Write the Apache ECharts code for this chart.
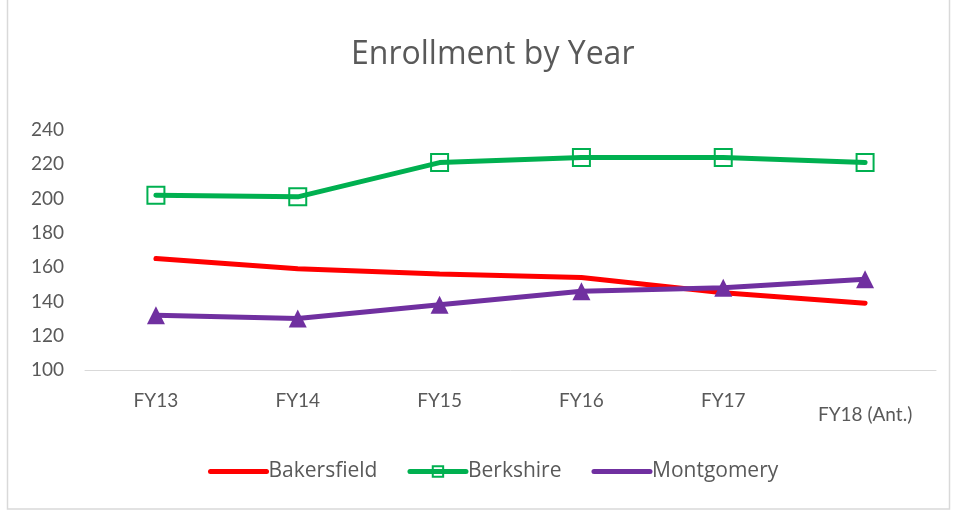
<!DOCTYPE html>
<html><head><meta charset="utf-8">
<script src="https://cdn.jsdelivr.net/npm/echarts@6/dist/echarts.min.js"></script>
<style>html,body{margin:0;padding:0;background:#fff}#c{width:954px;height:512px}</style>
</head><body><div id="c"></div>
<script>
const categories = ['FY13','FY14','FY15','FY16','FY17','FY18 (Ant.)'];
const bakersfield = [165, 159, 156, 154, 145, 139];
const berkshire = [202, 201, 221, 224, 224, 221];
const montgomery = [132, 130, 138, 146, 148, 153];
const yTicks = {min: 100, max: 240, interval: 20};

const FONT = 'Lato, "Liberation Sans", sans-serif';
const FONT2 = '"Open Sans", Lato, sans-serif';
const chart = echarts.init(document.getElementById('c'), null, {renderer: 'canvas'});
chart.setOption({
  animation: false,
  backgroundColor: '#fff',
  title: {text: 'Enrollment by Year', left: 346, top: 34,
    textStyle: {fontFamily: FONT2, fontSize: 32, fontWeight: 'normal', color: '#595959'}},
  graphic: [{type: 'rect', shape: {x: 7.5, y: -2, width: 942, height: 511},
    style: {fill: 'none', stroke: '#d9d9d9', lineWidth: 1.5}}],
  grid: {left: 85, right: 18, top: 130, bottom: 142},
  legend: {bottom: 25, left: 203, itemWidth: 56, itemHeight: 13, itemGap: 30,
    lineStyle: {width: 5, cap: 'round'},
    textStyle: {fontFamily: FONT2, fontSize: 21, color: '#595959', padding: [0, 0, 0, -3]},
    data: [{name: 'Bakersfield', itemStyle: {opacity: 0}}, 'Berkshire',
           {name: 'Montgomery', itemStyle: {opacity: 0}}]},
  xAxis: {type: 'category', data: categories.map((c, i) => i === categories.length - 1 ?
      {value: c, textStyle: {padding: [14, 0, 0, 0]}} : c),
    axisLine: {lineStyle: {color: '#d9d9d9', width: 1}}, axisTick: {show: false},
    axisLabel: {fontFamily: FONT, fontSize: 19, color: '#595959', margin: 21}},
  yAxis: {type: 'value', min: yTicks.min, max: yTicks.max, interval: yTicks.interval,
    splitLine: {show: false}, axisLine: {show: false}, axisTick: {show: false},
    axisLabel: {fontFamily: FONT, fontSize: 19, color: '#595959', margin: 21}},
  series: [
    {name: 'Bakersfield', type: 'line', data: bakersfield, symbol: 'none',
      lineStyle: {color: '#FF0000', width: 5, cap: 'round'}, itemStyle: {color: '#FF0000'}},
    {name: 'Berkshire', type: 'line', data: berkshire, symbol: 'rect', symbolSize: 17,
      lineStyle: {color: '#00B050', width: 5, cap: 'round'},
      itemStyle: {color: 'rgba(255,255,255,0)', borderColor: '#00B050', borderWidth: 2}},
    {name: 'Montgomery', type: 'line', data: montgomery, symbol: 'triangle', symbolSize: 18,
      lineStyle: {color: '#7030A0', width: 5, cap: 'round'},
      itemStyle: {color: '#7030A0'}}
  ]
});
</script></body></html>
